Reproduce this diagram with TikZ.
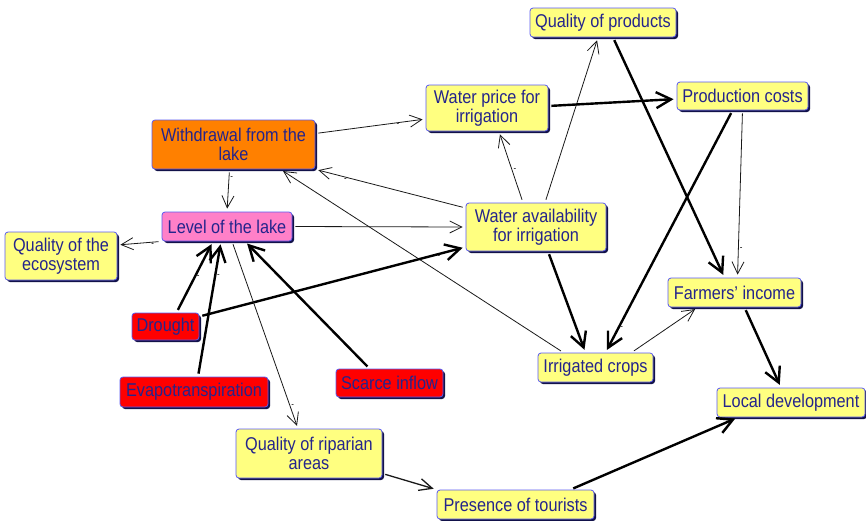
\documentclass[tikz,border=0pt]{standalone}
\usepackage{fontspec}
\setmainfont{Liberation Sans}[FakeStretch=0.88]
\usetikzlibrary{arrows.meta,shadows}
\definecolor{note}{HTML}{FFFF80}
\definecolor{act}{HTML}{FF8000}
\definecolor{lake}{HTML}{FF80C8}
\definecolor{press}{HTML}{FF0000}
\definecolor{rim}{HTML}{5A5AF0}
\definecolor{ink}{HTML}{24248C}
\definecolor{shade}{HTML}{12124A}
\tikzset{
  box/.style={draw=rim, line width=0.8pt, rounded corners=3pt, fill=#1, align=center, text=ink,
              inner sep=0pt, font=\fontsize{18.5}{19}\selectfont,
              drop shadow={shadow xshift=2pt, shadow yshift=-2pt, fill=shade, opacity=1}},
  sz/.style 2 args={minimum width=#1pt, minimum height=#2pt},
  weak/.style={-{Straight Barb[length=12pt,width=12pt]}, line width=0.8pt, draw=black!90,
               shorten >=3pt, shorten <=3pt},
  mid/.style={-{Straight Barb[length=13pt,width=12pt]}, line width=1.3pt, draw=black!90,
              shorten >=3pt, shorten <=3pt},
  strong/.style={-{Straight Barb[length=15pt,width=16pt]}, line width=2.4pt, draw=black,
                 shorten >=3pt, shorten <=3pt},
  sgn/.style={font=\fontsize{9}{9}\selectfont, inner sep=1pt},
}

\begin{document}
\begin{tikzpicture}[x=1pt, y=-1pt]
\useasboundingbox (0,0) rectangle (866,520);
% lake side
\node[box=act, sz={163}{49}] (withdraw) at (233.5,144.5) {Withdrawal from the\\lake};
\node[box=lake, sz={130}{29}] (level) at (227,226.5) {Level of the lake};
\node[box=note, sz={112}{48}] (ecosys) at (61,256) {Quality of the\\ecosystem};
\node[box=press, sz={67}{27}] (drought) at (165.5,326.5) {Drought};
\node[box=press, sz={148}{30}] (evapo) at (194,392) {Evapotranspiration};
\node[box=press, sz={107}{28}] (inflow) at (389.5,383) {Scarce inflow};
\node[box=note, sz={146}{49}] (riparian) at (309,453.5) {Quality of riparian\\areas};
\node[box=note, sz={157}{29}] (tourists) at (515.5,504.5) {Presence of tourists};

% farm side
\node[box=note, sz={146}{29}] (prodq) at (603,22.5) {Quality of products};
\node[box=note, sz={122}{46}] (price) at (487,108) {Water price for\\irrigation};
\node[box=note, sz={131}{28}] (costs) at (742.5,96) {Production costs};
\node[box=note, sz={140}{48}] (avail) at (536,227) {Water availability\\for irrigation};
\node[box=note, sz={133}{29}] (income) at (734.5,292.5) {Farmers' income};
\node[box=note, sz={115}{29}] (crops) at (595.5,367.5) {Irrigated crops};
\node[box=note, sz={148}{29}] (local) at (791,402.5) {Local development};

\draw[weak] ([yshift=11pt]withdraw.east) -- node[sgn, pos=0.75, below] {-} ([yshift=-11pt]price.west);
\draw[weak] ([yshift=19pt]avail.west) -- node[sgn, pos=0.8, below] {-} (withdraw.south east);
\draw[weak] ([xshift=-32pt]crops.north) -- ([xshift=47pt]withdraw.south);
\draw[weak] ([xshift=-4pt]withdraw.south) -- node[sgn, pos=0.2, right] {-} (level.north);
\draw[weak] (level.east) -- (avail.west);
\draw[weak] (level.south west) -- node[sgn, pos=0.2, below] {-} ([yshift=11pt]ecosys.east);
\draw[strong] ([xshift=11pt]drought.north) -- node[sgn, pos=0.5, right] {-} ([xshift=-14pt]level.south);
\draw[strong] ([xshift=4pt]evapo.north) -- node[sgn, pos=0.74, right] {-} ([xshift=-6pt]level.south);
\draw[strong] ([xshift=-20pt]inflow.north) -- ([xshift=18pt]level.south);
\draw[strong] ([yshift=10pt]drought.east) -- node[sgn, pos=0.9, below] {-} ([yshift=-20pt]avail.west);
\draw[weak] ([xshift=5pt]level.south) -- node[sgn, pos=0.88, right] {-} ([xshift=-11pt]riparian.north);
\draw[mid] ([yshift=-20pt]riparian.east) -- (tourists.north west);
\draw[strong] ([xshift=55pt]tourists.north) -- ([xshift=-53pt]local.south);
\draw[weak] ([xshift=-13pt]avail.north) -- node[sgn, pos=0.45, right] {-} ([xshift=12pt]price.south);
\draw[weak] ([xshift=9pt]avail.north) -- ([xshift=-5pt]prodq.south);
\draw[strong] ([xshift=12pt]avail.south) -- ([xshift=-10pt]crops.north);
\draw[strong] ([yshift=2pt]price.east) -- ([yshift=-3pt]costs.west);
\draw[strong] ([xshift=10pt]prodq.south) -- ([xshift=-10pt]income.north);
\draw[strong] ([xshift=-10pt]costs.south) -- node[sgn, pos=0.9, right] {-} ([xshift=10pt]crops.north);
\draw[weak] (costs.south) -- node[sgn, pos=0.83, right] {-} ([xshift=3pt]income.north);
\draw[weak] ([xshift=-22pt]crops.north east) -- ([xshift=30pt]income.south west);
\draw[strong] ([xshift=10pt]income.south) -- ([xshift=-10pt]local.north);
\end{tikzpicture}
\end{document}
